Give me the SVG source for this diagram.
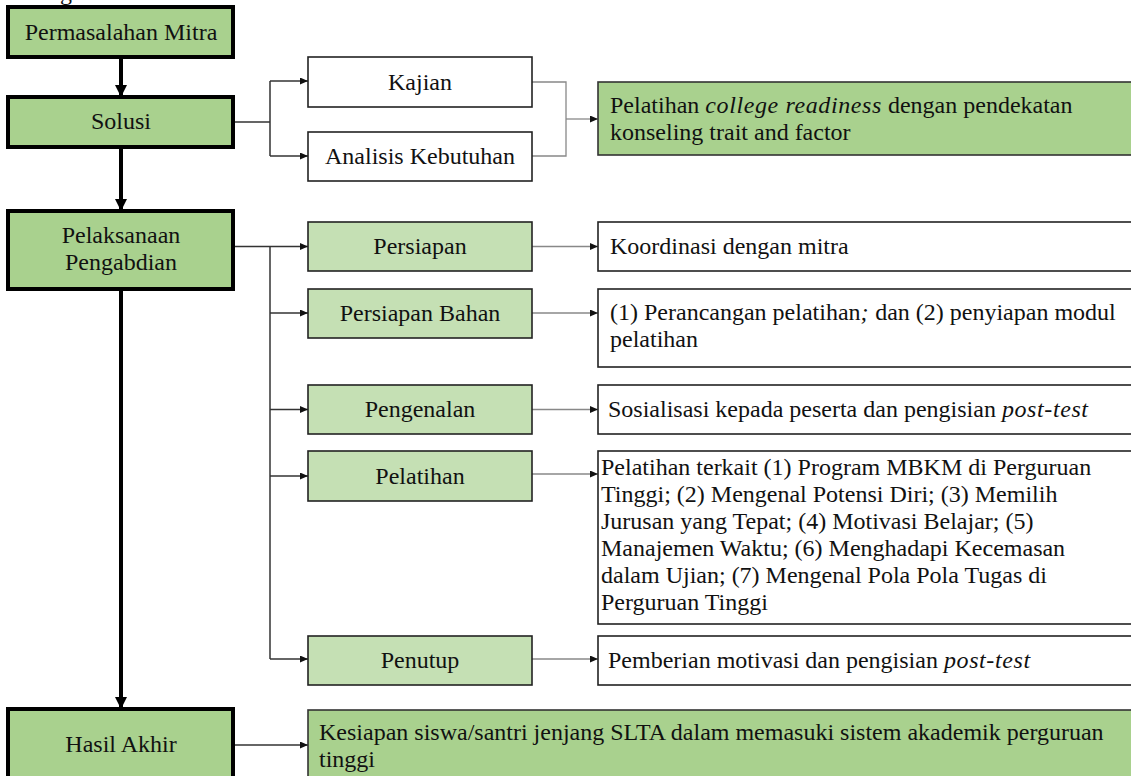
<svg xmlns="http://www.w3.org/2000/svg" width="1131" height="776" viewBox="0 0 1131 776">
<style>
text{font-family:"Liberation Serif","Times New Roman",serif;font-size:24px;fill:#111}
.c{text-anchor:middle}
.main{fill:#a9d18e;stroke:#000;stroke-width:4}
.white{fill:#fff;stroke:#222;stroke-width:1.6}
.light{fill:#c5e0b4;stroke:#222;stroke-width:1.6}
.res{fill:#a9d18e;stroke:#333;stroke-width:1.6}
.thick{stroke:#000;stroke-width:4;fill:none}
.thin{stroke:#333;stroke-width:1.5;fill:none}
.grey{stroke:#888;stroke-width:1.3;fill:none}
.it{font-style:italic;letter-spacing:0.6px}
</style>
<defs>
<marker id="big" markerUnits="userSpaceOnUse" markerWidth="13" markerHeight="13" refX="12" refY="6" orient="auto"><path d="M0,0 L12,6 L0,12 z" fill="#000"/></marker>
<marker id="sm" markerUnits="userSpaceOnUse" markerWidth="9" markerHeight="8" refX="8" refY="3.5" orient="auto"><path d="M0,0 L8,3.5 L0,7 z" fill="#111"/></marker>
</defs>
<rect width="1131" height="776" fill="#fff"/>
<text x="60" y="0">g</text>

<g id="connectors">
<line class="thick" x1="121" y1="57" x2="121" y2="97" marker-end="url(#big)"/>
<line class="thick" x1="121" y1="147" x2="121" y2="211" marker-end="url(#big)"/>
<line class="thick" x1="121" y1="289" x2="121" y2="709" marker-end="url(#big)"/>
<path class="thin" d="M233,122 H270 M270,81 V156"/>
<path class="thin" d="M270,81 H308" marker-end="url(#sm)"/>
<path class="thin" d="M270,156 H308" marker-end="url(#sm)"/>
<path class="grey" d="M532,82 H566 V156 H532"/>
<path class="grey" d="M566,119 H598" marker-end="url(#sm)"/>
<path class="thin" d="M233,246.5 H308" marker-end="url(#sm)"/>
<path class="thin" d="M270,246.5 V659"/>
<path class="thin" d="M270,313 H308" marker-end="url(#sm)"/>
<path class="thin" d="M270,409.5 H308" marker-end="url(#sm)"/>
<path class="thin" d="M270,476 H308" marker-end="url(#sm)"/>
<path class="thin" d="M270,659 H308" marker-end="url(#sm)"/>
<path class="grey" d="M532,246.5 H598" marker-end="url(#sm)"/>
<path class="grey" d="M532,313 H598" marker-end="url(#sm)"/>
<path class="grey" d="M532,409.5 H598" marker-end="url(#sm)"/>
<path class="grey" d="M532,474 H598" marker-end="url(#sm)"/>
<path class="grey" d="M532,659 H598" marker-end="url(#sm)"/>
<path class="thin" d="M233,745 H308" marker-end="url(#sm)"/>
</g>

<g id="permasalahan"><rect class="main" x="8" y="7" width="225" height="50"/><text class="c" x="121" y="40">Permasalahan Mitra</text></g>
<g id="solusi"><rect class="main" x="8" y="97" width="225" height="50"/><text class="c" x="121" y="129">Solusi</text></g>
<g id="kajian"><rect class="white" x="308" y="57" width="224" height="50"/><text class="c" x="420" y="90">Kajian</text></g>
<g id="analisis"><rect class="white" x="308" y="132" width="224" height="49"/><text class="c" x="420" y="164">Analisis Kebutuhan</text></g>
<g id="college"><rect class="res" x="598" y="82" width="540" height="73"/><text x="610" y="113">Pelatihan <tspan class="it">college readiness</tspan> dengan pendekatan</text><text x="610" y="140">konseling trait and factor</text></g>

<g id="pelaksanaan"><rect class="main" x="8" y="211" width="225" height="78"/><text class="c" x="121" y="243">Pelaksanaan</text><text class="c" x="121" y="270">Pengabdian</text></g>
<g id="persiapan"><rect class="light" x="308" y="222" width="224" height="49"/><text class="c" x="420" y="254">Persiapan</text></g>
<g id="koordinasi"><rect class="white" x="598" y="222" width="540" height="49"/><text x="610" y="254">Koordinasi dengan mitra</text></g>
<g id="persiapan-bahan"><rect class="light" x="308" y="289" width="224" height="49"/><text class="c" x="420" y="321">Persiapan Bahan</text></g>
<g id="perancangan"><rect class="white" x="598" y="289" width="540" height="78"/><text x="610" y="320">(1) Perancangan pelatihan<tspan class="it">;</tspan> dan (2) penyiapan modul</text><text x="610" y="347">pelatihan</text></g>
<g id="pengenalan"><rect class="light" x="308" y="385" width="224" height="49"/><text class="c" x="420" y="417">Pengenalan</text></g>
<g id="sosialisasi"><rect class="white" x="598" y="385" width="540" height="49"/><text x="608" y="417">Sosialisasi kepada peserta dan pengisian <tspan class="it">post-test</tspan></text></g>
<g id="pelatihan"><rect class="light" x="308" y="451" width="224" height="50"/><text class="c" x="420" y="484">Pelatihan</text></g>
<g id="pelatihan-terkait"><rect class="white" x="598" y="451" width="540" height="173"/>
<text x="601" y="475">Pelatihan terkait (1) Program MBKM di Perguruan</text>
<text x="601" y="502">Tinggi; (2) Mengenal Potensi Diri; (3) Memilih</text>
<text x="601" y="529">Jurusan yang Tepat; (4) Motivasi Belajar; (5)</text>
<text x="601" y="556">Manajemen Waktu; (6) Menghadapi Kecemasan</text>
<text x="601" y="583">dalam Ujian; (7) Mengenal Pola Pola Tugas di</text>
<text x="601" y="610">Perguruan Tinggi</text></g>
<g id="penutup"><rect class="light" x="308" y="636" width="224" height="49"/><text class="c" x="420" y="668">Penutup</text></g>
<g id="pemberian"><rect class="white" x="598" y="636" width="540" height="49"/><text x="608" y="668">Pemberian motivasi dan pengisian <tspan class="it">post-test</tspan></text></g>
<g id="hasil-akhir"><rect class="main" x="8" y="709" width="225" height="80"/><text class="c" x="121" y="752">Hasil Akhir</text></g>
<g id="kesiapan"><rect class="res" x="308" y="710" width="830" height="80"/><text x="319" y="740">Kesiapan siswa/santri jenjang SLTA dalam memasuki sistem akademik perguruan</text><text x="319" y="767">tinggi</text></g>
</svg>
